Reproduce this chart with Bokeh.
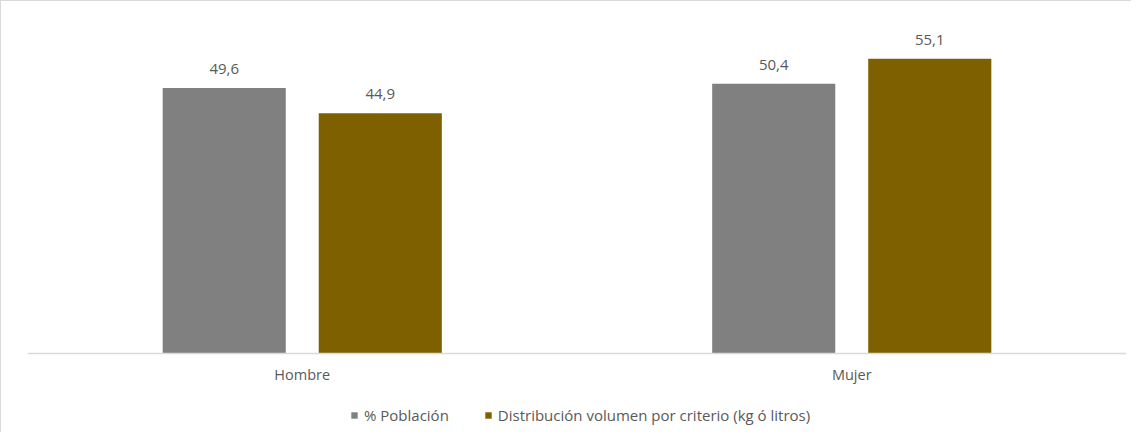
from bokeh.plotting import figure
from bokeh.models import FactorRange, ColumnDataSource, LabelSet, Legend, LegendItem
from bokeh.core.properties import value
from bokeh.transform import dodge
from bokeh.embed import file_html
from bokeh.resources import INLINE

categories = ["Hombre", "Mujer"]
poblacion = [49.6, 50.4]
distribucion = [44.9, 55.1]
series_names = ["% Población", "Distribución volumen por criterio (kg ó litros)"]
colors = ["#808080", "#7F6000"]

def fmt(v):
    return ("%.1f" % v).replace(".", ",")

src = ColumnDataSource(dict(
    cat=categories,
    pob=poblacion,
    dist=distribucion,
    pob_lbl=[fmt(v) for v in poblacion],
    dist_lbl=[fmt(v) for v in distribucion],
))

p = figure(x_range=FactorRange(*categories, range_padding=0), y_range=(-15, 60),
           width=1131, height=432, output_backend="svg", toolbar_location=None,
           min_border_left=26, min_border_right=6, min_border_top=31, min_border_bottom=0)
p.styles = {"border-left": "1px solid #d9d9d9", "border-top": "1px solid #d9d9d9"}

r1 = p.vbar(x=dodge("cat", -0.142, range=p.x_range), top="pob", bottom=0, width=0.224,
            source=src, fill_color=colors[0], line_color=None)
r2 = p.vbar(x=dodge("cat", 0.142, range=p.x_range), top="dist", bottom=0, width=0.224,
            source=src, fill_color=colors[1], line_color=None)

for off, col in [(-0.142, "pob"), (0.142, "dist")]:
    p.add_layout(LabelSet(x=dodge("cat", off, range=p.x_range), y=col, text=col + "_lbl",
                          source=src, y_offset=14, text_align="center",
                          text_font=value("Open Sans"), text_font_size="15px",
                          text_color="#595959"))

p.yaxis.visible = False
p.xgrid.grid_line_color = None
p.ygrid.grid_line_color = None
p.outline_line_color = None
p.xaxis.fixed_location = 0
p.xaxis.axis_line_color = "#d9d9d9"
p.xaxis.axis_line_width = 1.5
p.xaxis.major_tick_line_color = None
p.xaxis.minor_tick_line_color = None
p.xaxis.major_label_text_font = "Open Sans"
p.xaxis.major_label_text_font_size = "14.5px"
p.xaxis.major_label_text_color = "#595959"
p.xaxis.major_label_standoff = 6

legend = Legend(items=[LegendItem(label=series_names[0], renderers=[r1]),
                       LegendItem(label=series_names[1], renderers=[r2])],
                orientation="horizontal", location=(323, 8),
                label_text_font="Open Sans", label_text_font_size="15px",
                label_text_color="#595959", glyph_width=8, glyph_height=8,
                label_standoff=6, spacing=35, border_line_color=None,
                background_fill_alpha=0, margin=0, padding=0)
p.add_layout(legend, "center")

open("out.html", "w").write(file_html(p, INLINE))
